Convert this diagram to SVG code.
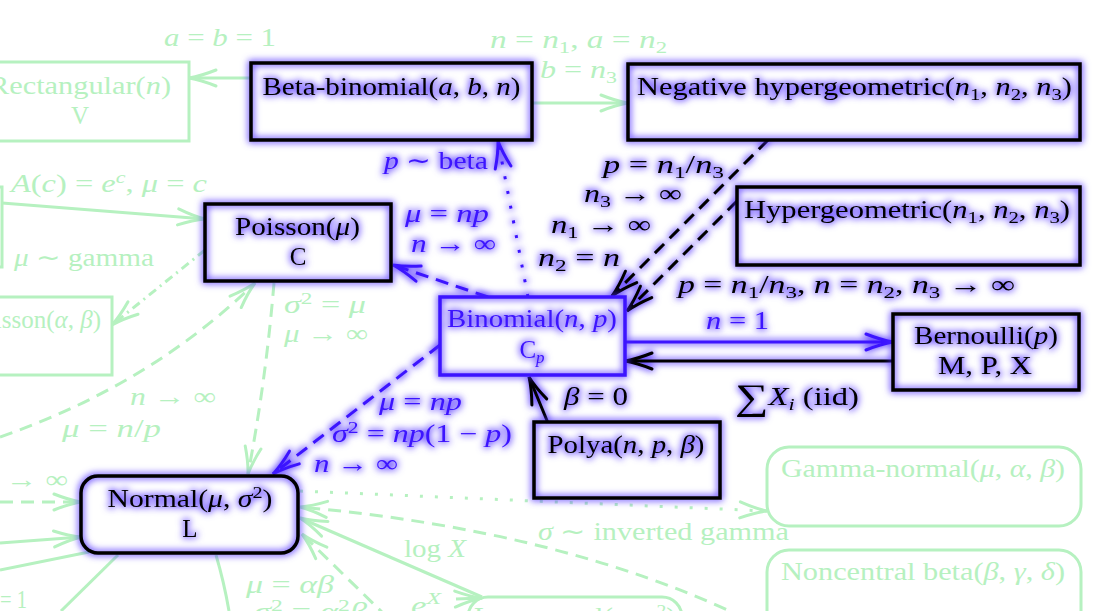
<svg xmlns="http://www.w3.org/2000/svg" width="1118" height="611" viewBox="0 0 1118 611">
<style>
.t{font-family:"Liberation Serif","Times New Roman",serif;font-size:25px}
.i{font-style:italic}
.s{font-size:17px}
.g{fill:#b6f1c0}
.b{fill:#3c14ff}
.k{fill:#000}
.box{fill:#fff;stroke:none}
.kst{fill:none;stroke:#000;stroke-width:3.5}
.bst{fill:none;stroke:#3c14ff;stroke-width:3.5}
.gst{fill:none;stroke:#b6f1c0;stroke-width:3}
.ln{fill:none;stroke-width:3}
.gl{stroke:#b6f1c0}
.bl{stroke:#3c14ff}
.kl{stroke:#000}
.dash{stroke-dasharray:13 8}
.dot{stroke-dasharray:3 12}
.dd{stroke-dasharray:9 5 2 5}
</style>
<defs>
<filter id="glow" filterUnits="userSpaceOnUse" x="0" y="0" width="1118" height="611" color-interpolation-filters="sRGB">
<feMorphology in="SourceAlpha" operator="dilate" radius="1" result="d"/>
<feGaussianBlur in="d" stdDeviation="3.5" result="b"/>
<feFlood flood-color="#4a28ff" flood-opacity="0.85"/>
<feComposite in2="b" operator="in" result="g"/>
<feMerge><feMergeNode in="g"/><feMergeNode in="SourceGraphic"/></feMerge>
</filter>
<marker id="ag" viewBox="-30 -12 34 24" refX="0" refY="0" markerWidth="34" markerHeight="24" markerUnits="userSpaceOnUse" orient="auto">
<path d="M-27,-8 Q-12,-2 0,0 Q-12,2 -27,8" fill="none" stroke="#b6f1c0" stroke-width="3" stroke-linecap="round"/>
</marker>
<marker id="ab" viewBox="-30 -12 34 24" refX="0" refY="0" markerWidth="34" markerHeight="24" markerUnits="userSpaceOnUse" orient="auto">
<path d="M-27,-8 Q-12,-2 0,0 Q-12,2 -27,8" fill="none" stroke="#3c14ff" stroke-width="3" stroke-linecap="round"/>
</marker>
<marker id="ak" viewBox="-30 -12 34 24" refX="0" refY="0" markerWidth="34" markerHeight="24" markerUnits="userSpaceOnUse" orient="auto">
<path d="M-27,-8 Q-12,-2 0,0 Q-12,2 -27,8" fill="none" stroke="#000" stroke-width="3" stroke-linecap="round"/>
</marker>
</defs>
<rect width="1118" height="611" fill="#fff"/>

<g id="connectors">
<g id="green-edges" class="ln gl">
<path d="M251,78 L189,78" marker-end="url(#ag)"/>
<path d="M532,103 L628,103" marker-end="url(#ag)"/>
<path d="M2,203 L205,219" marker-end="url(#ag)"/>
<path class="dd" d="M205,250 L112,325" marker-end="url(#ag)"/>
<path class="dash" d="M0,437 Q150,385 255,283" marker-end="url(#ag)"/>
<path class="dash" d="M274,283 Q266,380 248,474" marker-end="url(#ag)"/>
<path class="dash" d="M0,502 L81,502" marker-end="url(#ag)"/>
<path d="M0,543 L81,537" marker-end="url(#ag)"/>
<path d="M0,570 L89,552"/>
<path d="M61,611 L118,555"/>
<path d="M216,555 Q224,582 229,611"/>
<path class="dot" d="M300,491 L767,511" marker-end="url(#ag)"/>
<path class="dash" d="M745,618 Q560,530 300,507" marker-end="url(#ag)"/>
<path d="M482,597 L300,518" marker-end="url(#ag)"/>
<path d="M456,599 L482,598" marker-end="url(#ag)"/>
<path class="dash" d="M388,618 L302,534" marker-end="url(#ag)"/>
</g>
<g id="dark-edges" class="ln" filter="url(#glow)">
<path class="bl dash" d="M488,297 L393,265" marker-end="url(#ab)"/>
<path class="bl dot" d="M528,297 L498,141" marker-end="url(#ab)"/>
<path class="bl dash" d="M440,345 L273,474" marker-end="url(#ab)"/>
<path class="bl" d="M625,342 L893,342" marker-end="url(#ab)"/>
<path class="kl" d="M893,361 L625,361" marker-end="url(#ak)"/>
<path class="kl" d="M548,423 L529,377" marker-end="url(#ak)"/>
<path class="kl dash" d="M768,140 L612,296" marker-end="url(#ak)"/>
<path class="kl dash" d="M737,201 L627,311" marker-end="url(#ak)"/>
</g>
</g>

<g id="n-left" class="t g">
<rect class="box gst" x="-200" y="187" width="202" height="80"/>
</g>
<g id="n-rectangular" class="t g">
<rect class="box gst" x="-29" y="62" width="218" height="79"/>
<text x="80" y="94" text-anchor="middle" textLength="182" lengthAdjust="spacingAndGlyphs">Rectangular(<tspan class="i">n</tspan>)</text>
<text x="80" y="124" text-anchor="middle">V</text>
</g>
<g id="n-gammapoisson" class="t g">
<rect class="box gst" x="-150" y="297" width="262" height="78"/>
<text x="101" y="328" text-anchor="end">Gamma-Poisson(<tspan class="i">α</tspan>, <tspan class="i">β</tspan>)</text>
</g>
<g id="n-gammanormal" class="t g">
<rect class="box gst" x="767" y="447" width="314" height="79" rx="22"/>
<text x="781" y="477" textLength="284" lengthAdjust="spacingAndGlyphs">Gamma-normal(<tspan class="i">μ</tspan>, <tspan class="i">α</tspan>, <tspan class="i">β</tspan>)</text>
</g>
<g id="n-noncentralbeta" class="t g">
<rect class="box gst" x="767" y="550" width="314" height="100" rx="22"/>
<text x="781" y="580" textLength="284" lengthAdjust="spacingAndGlyphs">Noncentral beta(<tspan class="i">β</tspan>, <tspan class="i">γ</tspan>, <tspan class="i">δ</tspan>)</text>
</g>
<g id="n-lognormal" class="t g">
<rect class="box gst" x="468" y="597" width="214" height="80" rx="20"/>
<text x="474" y="625" textLength="202" lengthAdjust="spacingAndGlyphs">Lognormal(<tspan class="i">μ</tspan>, <tspan class="i">σ</tspan><tspan class="s" baseline-shift="9">2</tspan>)</text>
</g>

<g id="n-betabinomial" class="t k">
<rect class="box" x="251" y="63" width="281" height="77"/>
<g filter="url(#glow)">
<rect class="kst" x="251" y="63" width="281" height="77"/>
<text x="391.5" y="95" text-anchor="middle" textLength="258" lengthAdjust="spacingAndGlyphs">Beta-binomial(<tspan class="i">a</tspan>, <tspan class="i">b</tspan>, <tspan class="i">n</tspan>)</text>
</g>
</g>
<g id="n-neghyper" class="t k">
<rect class="box" x="628" y="64" width="452" height="76"/>
<g filter="url(#glow)">
<rect class="kst" x="628" y="64" width="452" height="76"/>
<text x="854.5" y="95" text-anchor="middle" textLength="435" lengthAdjust="spacingAndGlyphs">Negative hypergeometric(<tspan class="i">n</tspan><tspan class="s" baseline-shift="-5">1</tspan>, <tspan class="i">n</tspan><tspan class="s" baseline-shift="-5">2</tspan>, <tspan class="i">n</tspan><tspan class="s" baseline-shift="-5">3</tspan>)</text>
</g>
</g>
<g id="n-hyper" class="t k">
<rect class="box" x="737" y="187" width="343" height="78"/>
<g filter="url(#glow)">
<rect class="kst" x="737" y="187" width="343" height="78"/>
<text x="907" y="218" text-anchor="middle" textLength="326" lengthAdjust="spacingAndGlyphs">Hypergeometric(<tspan class="i">n</tspan><tspan class="s" baseline-shift="-5">1</tspan>, <tspan class="i">n</tspan><tspan class="s" baseline-shift="-5">2</tspan>, <tspan class="i">n</tspan><tspan class="s" baseline-shift="-5">3</tspan>)</text>
</g>
</g>
<g id="n-poisson" class="t k">
<rect class="box" x="205" y="204" width="186" height="77"/>
<g filter="url(#glow)">
<rect class="kst" x="205" y="204" width="186" height="77"/>
<text x="297.5" y="235" text-anchor="middle" textLength="125" lengthAdjust="spacingAndGlyphs">Poisson(<tspan class="i">μ</tspan>)</text>
<text x="298" y="265" text-anchor="middle">C</text>
</g>
</g>
<g id="n-binomial" class="t b">
<rect class="box" x="440" y="297" width="185" height="78"/>
<g filter="url(#glow)">
<rect class="bst" x="440" y="297" width="185" height="78"/>
<text x="532" y="327" text-anchor="middle" textLength="170" lengthAdjust="spacingAndGlyphs">Binomial(<tspan class="i">n</tspan>, <tspan class="i">p</tspan>)</text>
<text x="532" y="358" text-anchor="middle">C<tspan class="s i" baseline-shift="-5">p</tspan></text>
</g>
</g>
<g id="n-bernoulli" class="t k">
<rect class="box" x="893" y="314" width="186" height="76"/>
<g filter="url(#glow)">
<rect class="kst" x="893" y="314" width="186" height="76"/>
<text x="986" y="344" text-anchor="middle" textLength="144" lengthAdjust="spacingAndGlyphs">Bernoulli(<tspan class="i">p</tspan>)</text>
<text x="985" y="374" text-anchor="middle" textLength="94" lengthAdjust="spacingAndGlyphs">M, P, X</text>
</g>
</g>
<g id="n-polya" class="t k">
<rect class="box" x="534" y="422" width="186" height="76"/>
<g filter="url(#glow)">
<rect class="kst" x="534" y="422" width="186" height="76"/>
<text x="626" y="453" text-anchor="middle" textLength="157" lengthAdjust="spacingAndGlyphs">Polya(<tspan class="i">n</tspan>, <tspan class="i">p</tspan>, <tspan class="i">β</tspan>)</text>
</g>
</g>
<g id="n-normal" class="t k">
<rect class="box" x="81" y="476" width="217" height="77" rx="17"/>
<g filter="url(#glow)">
<rect class="kst" x="81" y="476" width="217" height="77" rx="17"/>
<text x="190" y="507" text-anchor="middle" textLength="165" lengthAdjust="spacingAndGlyphs">Normal(<tspan class="i">μ</tspan>, <tspan class="i">σ</tspan><tspan class="s" baseline-shift="9">2</tspan>)</text>
<text x="190" y="537" text-anchor="middle">L</text>
</g>
</g>

<g id="labels-green" class="t g">
<text x="164" y="46" textLength="112" lengthAdjust="spacingAndGlyphs"><tspan class="i">a</tspan> = <tspan class="i">b</tspan> = 1</text>
<text x="490" y="48" textLength="177" lengthAdjust="spacingAndGlyphs"><tspan class="i">n</tspan> = <tspan class="i">n</tspan><tspan class="s" baseline-shift="-5">1</tspan>, <tspan class="i">a</tspan> = <tspan class="i">n</tspan><tspan class="s" baseline-shift="-5">2</tspan></text>
<text x="540" y="78" textLength="77" lengthAdjust="spacingAndGlyphs"><tspan class="i">b</tspan> = <tspan class="i">n</tspan><tspan class="s" baseline-shift="-5">3</tspan></text>
<text x="11" y="192" textLength="196" lengthAdjust="spacingAndGlyphs"><tspan class="i">A</tspan>(<tspan class="i">c</tspan>) = <tspan class="i">e</tspan><tspan class="s i" baseline-shift="9">c</tspan>, <tspan class="i">μ</tspan> = <tspan class="i">c</tspan></text>
<text x="14" y="266" textLength="140" lengthAdjust="spacingAndGlyphs"><tspan class="i">μ</tspan> ∼ gamma</text>
<text x="284" y="313" textLength="82" lengthAdjust="spacingAndGlyphs"><tspan class="i">σ</tspan><tspan class="s" baseline-shift="9">2</tspan> = <tspan class="i">μ</tspan></text>
<text x="284" y="342" textLength="84" lengthAdjust="spacingAndGlyphs"><tspan class="i">μ</tspan> → ∞</text>
<text x="130" y="405" textLength="86" lengthAdjust="spacingAndGlyphs"><tspan class="i">n</tspan> → ∞</text>
<text x="62" y="437" textLength="99" lengthAdjust="spacingAndGlyphs"><tspan class="i">μ</tspan> = <tspan class="i">n</tspan>/<tspan class="i">p</tspan></text>
<text x="-18" y="488" textLength="86" lengthAdjust="spacingAndGlyphs"><tspan class="i">n</tspan> → ∞</text>
<text x="0" y="608" textLength="27" lengthAdjust="spacingAndGlyphs">= 1</text>
<text x="538" y="540" textLength="251" lengthAdjust="spacingAndGlyphs"><tspan class="i">σ</tspan> ∼ inverted gamma</text>
<text x="404" y="557" textLength="62" lengthAdjust="spacingAndGlyphs">log <tspan class="i">X</tspan></text>
<text x="246" y="593" textLength="88" lengthAdjust="spacingAndGlyphs"><tspan class="i">μ</tspan> = <tspan class="i">αβ</tspan></text>
<text x="254" y="620" textLength="113" lengthAdjust="spacingAndGlyphs"><tspan class="i">σ</tspan><tspan class="s" baseline-shift="9">2</tspan> = <tspan class="i">α</tspan><tspan class="s" baseline-shift="9">2</tspan><tspan class="i">β</tspan></text>
<text x="411" y="614" textLength="30" lengthAdjust="spacingAndGlyphs"><tspan class="i">e</tspan><tspan class="s i" baseline-shift="10">X</tspan></text>
</g>

<g id="labels-dark" class="t" filter="url(#glow)">
<g class="b">
<text x="384" y="169" textLength="104" lengthAdjust="spacingAndGlyphs"><tspan class="i">p</tspan> ∼ beta</text>
<text x="405" y="222" textLength="84" lengthAdjust="spacingAndGlyphs"><tspan class="i">μ</tspan> = <tspan class="i">np</tspan></text>
<text x="411" y="252" textLength="85" lengthAdjust="spacingAndGlyphs"><tspan class="i">n</tspan> → ∞</text>
<text x="379" y="410" textLength="83" lengthAdjust="spacingAndGlyphs"><tspan class="i">μ</tspan> = <tspan class="i">np</tspan></text>
<text x="332" y="442" textLength="180" lengthAdjust="spacingAndGlyphs"><tspan class="i">σ</tspan><tspan class="s" baseline-shift="9">2</tspan> = <tspan class="i">np</tspan>(1 − <tspan class="i">p</tspan>)</text>
<text x="314" y="472" textLength="84" lengthAdjust="spacingAndGlyphs"><tspan class="i">n</tspan> → ∞</text>
<text x="706" y="329" textLength="63" lengthAdjust="spacingAndGlyphs"><tspan class="i">n</tspan> = 1</text>
</g>
<g class="k">
<text x="603" y="173" textLength="121" lengthAdjust="spacingAndGlyphs"><tspan class="i">p</tspan> = <tspan class="i">n</tspan><tspan class="s" baseline-shift="-5">1</tspan>/<tspan class="i">n</tspan><tspan class="s" baseline-shift="-5">3</tspan></text>
<text x="584" y="202" textLength="98" lengthAdjust="spacingAndGlyphs"><tspan class="i">n</tspan><tspan class="s" baseline-shift="-5">3</tspan> → ∞</text>
<text x="551" y="233" textLength="100" lengthAdjust="spacingAndGlyphs"><tspan class="i">n</tspan><tspan class="s" baseline-shift="-5">1</tspan> → ∞</text>
<text x="538" y="266" textLength="82" lengthAdjust="spacingAndGlyphs"><tspan class="i">n</tspan><tspan class="s" baseline-shift="-5">2</tspan> = <tspan class="i">n</tspan></text>
<text x="678" y="293" textLength="337" lengthAdjust="spacingAndGlyphs"><tspan class="i">p</tspan> = <tspan class="i">n</tspan><tspan class="s" baseline-shift="-5">1</tspan>/<tspan class="i">n</tspan><tspan class="s" baseline-shift="-5">3</tspan>, <tspan class="i">n</tspan> = <tspan class="i">n</tspan><tspan class="s" baseline-shift="-5">2</tspan>, <tspan class="i">n</tspan><tspan class="s" baseline-shift="-5">3</tspan> → ∞</text>
<text x="564" y="405" textLength="64" lengthAdjust="spacingAndGlyphs"><tspan class="i">β</tspan> = 0</text>
<text x="735" y="405" textLength="124" lengthAdjust="spacingAndGlyphs"><tspan font-size="36" baseline-shift="-4">∑</tspan><tspan class="i">X</tspan><tspan class="s i" baseline-shift="-5">i</tspan> (iid)</text>
</g>
</g>
</svg>
